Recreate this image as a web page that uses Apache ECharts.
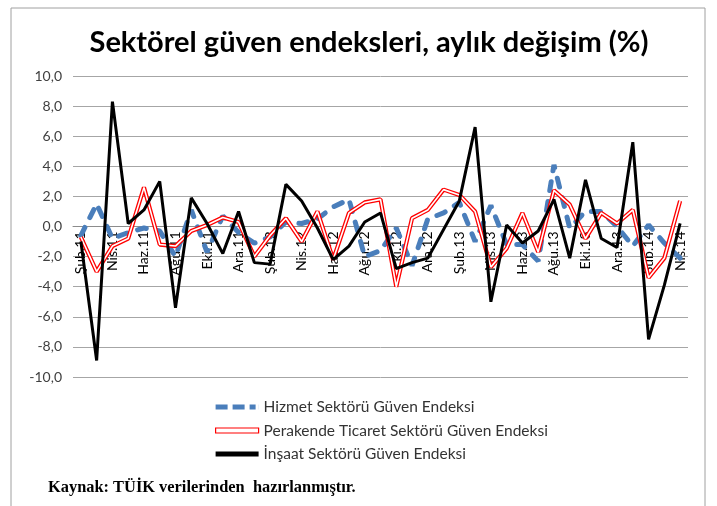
<!DOCTYPE html>
<html>
<head>
<meta charset="utf-8">
<title>Sektörel güven endeksleri</title>
<script src="https://cdn.jsdelivr.net/npm/echarts@6/dist/echarts.min.js"></script>
<style>
  html, body { margin: 0; padding: 0; background: #fff; }
  #chart { width: 717px; height: 506px; }
</style>
</head>
<body>
<div id="chart"></div>
<script>
// months Şub.11 .. Nis.14
const months = [
  'Şub.11', 'Mar.11', 'Nis.11', 'May.11', 'Haz.11', 'Tem.11', 'Ağu.11', 'Eyl.11', 'Eki.11', 'Kas.11', 'Ara.11',
  'Oca.12', 'Şub.12', 'Mar.12', 'Nis.12', 'May.12', 'Haz.12', 'Tem.12', 'Ağu.12', 'Eyl.12', 'Eki.12', 'Kas.12', 'Ara.12',
  'Oca.13', 'Şub.13', 'Mar.13', 'Nis.13', 'May.13', 'Haz.13', 'Tem.13', 'Ağu.13', 'Eyl.13', 'Eki.13', 'Kas.13', 'Ara.13',
  'Oca.14', 'Şub.14', 'Mar.14', 'Nis.14'
]

const hizmet = [
  -0.6, 1.5, -0.8, -0.4, -0.1, -0.3, -2.0, 1.1, -1.7, 0.7, -0.4,
  -1.1, -0.7, 0.3, 0.2, 0.5, 1.3, 1.8, -2.0, -1.6, -0.1, -2.6, 0.5,
  0.9, 1.6, -1.0, 1.4, -1.2, -1.2, -2.3, 4.1, -0.1, 1.0, 1.0, 0.0,
  -1.3, 0.1, -1.1, -2.1
]

const perakende = [
  -0.7, -3.0, -1.3, -0.8, 2.6, -1.2, -1.3, -0.3, 0.1, 0.6, 0.3,
  -2.0, -0.6, 0.55, -1.0, 1.0, -2.2, 0.9, 1.6, 1.8, -4.0, 0.55, 1.1,
  2.45, 2.1, 1.0, -2.7, -1.45, 0.9, -1.7, 2.4, 1.45, -0.8, 0.9, 0.2,
  1.1, -3.4, -2.1, 1.7
]

const insaat = [
  -1.0, -8.9, 8.3, 0.2, 1.1, 3.0, -5.4, 1.9, 0.2, -1.8, 1.0,
  -2.4, -2.5, 2.8, 1.7, -0.1, -2.2, -1.3, 0.3, 0.9, -2.8, -2.4, -2.1,
  -0.2, 1.7, 6.6, -5.0, 0.1, -1.1, -0.3, 1.8, -2.1, 3.1, -0.8, -1.4,
  5.6, -7.5, -3.9, 0.2
]

const names = [
  'Hizmet Sektörü Güven Endeksi',
  'Perakende Ticaret Sektörü Güven Endeksi',
  'İnşaat Sektörü Güven Endeksi'
]

const sans = 'Lato, "Liberation Sans", sans-serif'

// plot area
const gridTop = 76
const gridBottom = 129
const plotHeight = 506 - gridTop - gridBottom
const yMin = -10
const yMax = 10

const chart = echarts.init(document.getElementById('chart'))

chart.setOption({
  animation: false,
  backgroundColor: '#fff',
  title: {
    text: 'Sektörel güven endeksleri, aylık değişim (%)',
    left: 364,
    top: 23,
    textAlign: 'center',
    textStyle: { fontFamily: sans, fontWeight: 'bold', fontSize: 29, color: '#000' }
  },
  legend: {
    orient: 'vertical',
    left: 210,
    top: 394,
    itemWidth: 43,
    itemHeight: 14,
    itemGap: 7.5,
    textStyle: { fontFamily: sans, fontSize: 15.5, lineHeight: 14, color: '#333' },
    data: [
      {
        name: names[0],
        icon: 'path://M0,0 L12,0 L12,5 L0,5 Z M17,0 L29,0 L29,5 L17,5 Z M34,0 L40,0 L40,5 L34,5 Z M43,0 L43,5 L42.9,5 L42.9,0 Z',
        itemStyle: { color: '#4a7ebb' }
      },
      {
        name: names[1],
        icon: 'path://M0,0 L43,0 L43,5 L0,5 Z',
        itemStyle: { color: '#fff', borderColor: '#ff0000', borderWidth: 1.2 }
      },
      {
        name: names[2],
        icon: 'path://M0,0 L43,0 L43,5 L0,5 Z M0,1 L43,1 L43,4 L0,4 Z',
        itemStyle: { color: '#000' }
      }
    ]
  },
  grid: { left: 73, right: 29, top: gridTop, bottom: gridBottom },
  xAxis: {
    type: 'category',
    data: months,
    boundaryGap: true,
    // move the axis up to the zero line
    offset: -plotHeight * (0 - yMin) / (yMax - yMin),
    axisLine: { onZero: false, lineStyle: { color: '#8c8c8c', width: 1 } },
    axisTick: { show: false },
    axisLabel: {
      interval: 1,
      rotate: 90,
      margin: 5,
      fontFamily: sans,
      fontSize: 14,
      color: '#000'
    }
  },
  yAxis: {
    type: 'value',
    min: yMin,
    max: yMax,
    interval: 2,
    axisLine: { show: false },
    axisTick: { show: false },
    axisLabel: {
      margin: 11,
      fontFamily: sans,
      fontSize: 14,
      color: '#404040',
      formatter: v => v.toFixed(1).replace('.', ',')
    },
    splitLine: { lineStyle: { color: '#a6a6a6', width: 1 } }
  },
  graphic: [
    {
      type: 'rect',
      shape: { x: 11, y: 8, width: 694, height: 520 },
      style: { fill: 'none', stroke: '#a0a0a0', lineWidth: 1 },
      silent: true
    },
    {
      type: 'text',
      left: 48,
      top: 480,
      style: {
        text: 'Kaynak: TÜİK verilerinden  hazırlanmıştır.',
        font: 'bold 16.4px "Liberation Serif", "Times New Roman", serif',
        fill: '#000'
      }
    }
  ],
  series: [
    {
      name: names[0],
      type: 'line',
      data: hizmet,
      symbol: 'none',
      lineStyle: { color: '#4a7ebb', width: 5, type: [9, 11], cap: 'round' },
      itemStyle: { color: '#4a7ebb' },
      z: 2
    },
    {
      name: names[1],
      type: 'line',
      data: perakende,
      symbol: 'none',
      lineStyle: { color: '#ff0000', width: 4.2 },
      itemStyle: { color: '#ff0000' },
      z: 3
    },
    {
      // white core of the double red line
      name: 'perakende_core',
      type: 'line',
      data: perakende,
      symbol: 'none',
      lineStyle: { color: '#fff', width: 1.6 },
      z: 4
    },
    {
      name: names[2],
      type: 'line',
      data: insaat,
      symbol: 'none',
      lineStyle: { color: '#000', width: 3 },
      itemStyle: { color: '#000' },
      z: 5
    }
  ]
})
</script>
</body>
</html>
